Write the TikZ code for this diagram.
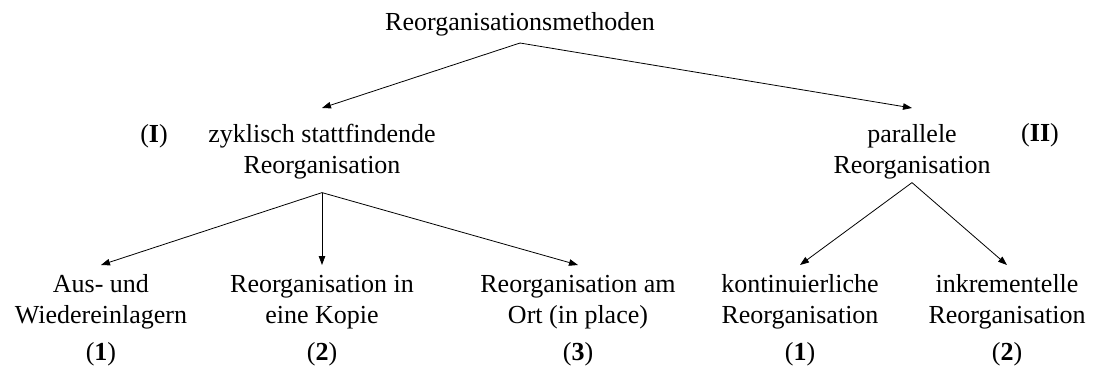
\documentclass[tikz,border=0pt]{standalone}
\usepackage{fontspec}
\setmainfont{Liberation Serif}
\usetikzlibrary{arrows.meta}
% fixed-height strut so every first line has the same top edge
\newcommand\firstline{\rule{0pt}{20pt}}
\begin{document}
\begin{tikzpicture}[x=1pt,y=-1pt,
  every node/.style={font=\fontsize{26}{31}\selectfont, inner sep=0pt},
  rootbox/.style={anchor=base, outer sep=7.4pt},
  midbox/.style={anchor=north, align=center, outer sep=14pt},
  leafbox/.style={anchor=north, align=center, outer sep=7pt},
  tag/.style={anchor=base},
  arr/.style={-{Triangle[length=9pt,width=6.5pt]}, line width=0.8pt}]
\useasboundingbox (0,0) rectangle (1093,370);

% top level
\node[rootbox] (root) at (520,30) {Reorganisationsmethoden};

% second level
\node[midbox] (zyk) at (322,108) {\firstline zyklisch stattfindende\\Reorganisation};
\node[midbox] (par) at (912,108) {\firstline parallele\\Reorganisation};
\node[tag] (tI)  at (154,142) {(\textbf{I})};
\node[tag] (tII) at (1040,141) {(\textbf{II})};

% leaves
\node[leafbox] (a1) at (101,265) {\firstline Aus- und\\Wiedereinlagern\\[6pt](\textbf{1})};
\node[leafbox] (a2) at (322,265) {\firstline Reorganisation in\\eine Kopie\\[6pt](\textbf{2})};
\node[leafbox] (a3) at (578,265) {\firstline Reorganisation am\\Ort (in place)\\[6pt](\textbf{3})};
\node[leafbox] (b1) at (800,265) {\firstline kontinuierliche\\Reorganisation\\[6pt](\textbf{1})};
\node[leafbox] (b2) at (1007,265) {\firstline inkrementelle\\Reorganisation\\[6pt](\textbf{2})};

% connectors
\draw[arr] (root.south) -- (zyk.north);
\draw[arr] (root.south) -- (par.north);
\draw[arr] (zyk.south) -- (a1.north);
\draw[arr] (zyk.south) -- (a2.north);
\draw[arr] (zyk.south) -- (a3.north);
\draw[arr] ([yshift=10pt]par.south) -- (b1.north);
\draw[arr] ([yshift=10pt]par.south) -- (b2.north);
\end{tikzpicture}
\end{document}
